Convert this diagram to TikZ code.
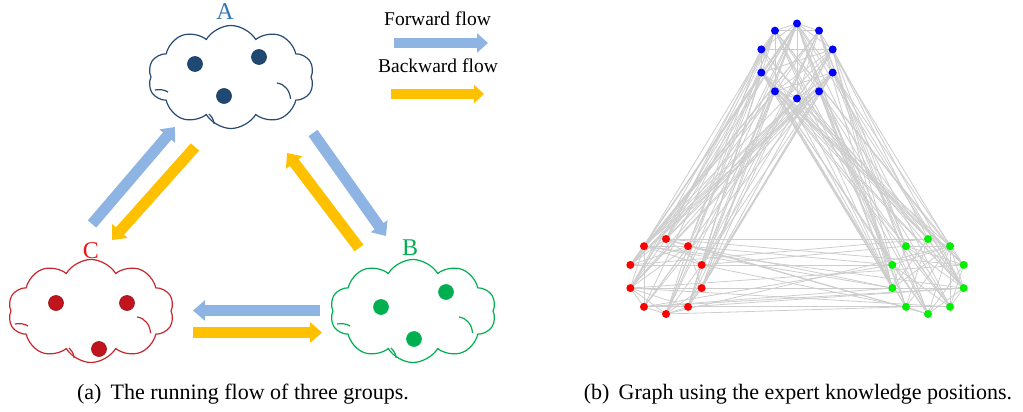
\documentclass[tikz,border=0pt]{standalone}
\usepackage{fontspec}
\setmainfont{Liberation Serif}
\usetikzlibrary{shapes.symbols,arrows.meta}
\pgfdeclarelayer{background}
\pgfsetlayers{background,main}
\definecolor{flowblue}{RGB}{141,180,226}
\definecolor{flowgold}{RGB}{255,192,0}
\definecolor{cloudA}{RGB}{40,75,115}
\definecolor{dotA}{RGB}{31,73,115}
\definecolor{labA}{RGB}{46,117,182}
\definecolor{cloudC}{RGB}{200,40,45}
\definecolor{dotC}{RGB}{192,20,30}
\definecolor{labC}{RGB}{240,20,20}
\definecolor{cloudB}{RGB}{0,176,80}
\definecolor{gblue}{RGB}{0,0,255}
\definecolor{gred}{RGB}{255,0,0}
\definecolor{ggreen}{RGB}{0,240,0}
\definecolor{edgegray}{RGB}{205,205,205}
\begin{document}
\begin{tikzpicture}[x=1pt,y=-1pt,
  grp/.style={cloud, cloud puffs=10, cloud puff arc=118, cloud ignores aspect,
    minimum width=166pt, minimum height=103pt, draw, line width=1.2pt, inner sep=0pt},
  inner/.style={line width=1.2pt},
  dot/.style={circle, inner sep=0pt, minimum size=15pt, line width=0.6pt},
  lab/.style={font=\fontsize{24}{28}\selectfont, anchor=base},
  leg/.style={font=\fontsize{19.5}{23}\selectfont, anchor=base},
  captext/.style={font=\fontsize{22}{26}\selectfont, anchor=base},
  flow/.style={line width=11pt, -{Triangle[length=12pt,width=20pt]}},
  gv/.style={circle, inner sep=0pt, minimum size=8pt},
  gedge/.style={draw=edgegray, line width=0.8pt},
  innerarcs/.pic={
    \draw[inner] (46,6) .. controls (54,7) and (59,14) .. (59.5,22);
    \draw[inner] (-22,37) .. controls (-19,40) and (-17,43) .. (-17,47);
    \draw[inner] (-76,13) .. controls (-71,12) and (-66,13) .. (-63,15);
  }]
\useasboundingbox (0,0) rectangle (1023,412);

% ---------- left panel: clouds ----------
\node[grp, draw=cloudA] (cA) at (231,77) {};
\node[grp, draw=cloudC] (cC) at (91,311) {};
\node[grp, draw=cloudB] (cB) at (413,311) {};
\pic[draw=cloudA] at (cA.center) {innerarcs};
\pic[draw=cloudC] at (cC.center) {innerarcs};
\pic[draw=cloudB] at (cB.center) {innerarcs};

\node[dot, fill=dotA, draw=dotA!80!black] (a1) at (195,64) {};
\node[dot, fill=dotA, draw=dotA!80!black] (a2) at (259,57) {};
\node[dot, fill=dotA, draw=dotA!80!black] (a3) at (224,96) {};
\node[dot, fill=dotC, draw=dotC!80!black] (c1) at (56,303) {};
\node[dot, fill=dotC, draw=dotC!80!black] (c2) at (127,303) {};
\node[dot, fill=dotC, draw=dotC!80!black] (c3) at (99,349) {};
\node[dot, fill=cloudB, draw=cloudB] (b1) at (381,307) {};
\node[dot, fill=cloudB, draw=cloudB] (b2) at (446,292) {};
\node[dot, fill=cloudB, draw=cloudB] (b3) at (414,339) {};

\node[lab, text=labA] (lA) at (225,20) {A};
\node[lab, text=labC] (lC) at (91,258) {C};
\node[lab, text=cloudB] (lB) at (410,255) {B};

% ---------- flow arrows ----------
\coordinate (ca1) at (92,224);  \coordinate (ca2) at (175,127);
\coordinate (ac1) at (195,147); \coordinate (ac2) at (112,240);
\coordinate (ab1) at (313,133); \coordinate (ab2) at (386,236);
\coordinate (ba1) at (359,248); \coordinate (ba2) at (287,153);
\coordinate (bc1) at (320,310.5); \coordinate (bc2) at (193,310.5);
\coordinate (cb1) at (193,332.5); \coordinate (cb2) at (322,332.5);
\draw[flow, flowblue] (ca1) -- (ca2);
\draw[flow, flowgold] (ac1) -- (ac2);
\draw[flow, flowblue] (ab1) -- (ab2);
\draw[flow, flowgold] (ba1) -- (ba2);
\draw[flow, flowblue] (bc1) -- (bc2);
\draw[flow, flowgold] (cb1) -- (cb2);

% ---------- legend ----------
\node[leg] (lf) at (437.5,26) {Forward flow};
\node[leg] (lbw) at (438,73) {Backward flow};
\coordinate (lf1) at (394,43); \coordinate (lf2) at (488,43);
\coordinate (lb1) at (391,94); \coordinate (lb2) at (484,94);
\draw[flow, flowblue, line width=10pt, -{Triangle[length=11pt,width=19pt]}] (lf1) -- (lf2);
\draw[flow, flowgold, line width=10pt, -{Triangle[length=10pt,width=18pt]}] (lb1) -- (lb2);

% ---------- right panel: graph ----------
\foreach \g/\cx/\cy/\col in {0/797/61/gblue,1/666/276.5/gred,2/928/276.5/ggreen}{
  \foreach \k in {0,...,9}{
    \pgfmathtruncatemacro\idx{10*\g+\k}
    \node[gv, fill=\col] (v\idx) at ({\cx+37.5*cos(90-36*\k)},{\cy-37.5*sin(90-36*\k)}) {};
  }
}
\pgfmathsetseed{4242}
\begin{pgfonlayer}{background}
\foreach \i in {0,...,28}{
  \pgfmathtruncatemacro\js{\i+1}
  \foreach \j in {\js,...,29}{
    \pgfmathtruncatemacro\gi{int(\i/10)}
    \pgfmathtruncatemacro\gj{int(\j/10)}
    \pgfmathsetmacro\p{\gi==\gj ? 0.6 : (\gi==0 ? 0.48 : 0.26)}
    \pgfmathsetmacro\r{rnd}
    \ifdim\r pt<\p pt \draw[gedge] (v\i.center) -- (v\j.center); \fi
  }
}
\end{pgfonlayer}

% ---------- captions ----------
\node[captext] (capa) at (243,399) {(a)\, The running flow of three groups.};
\node[captext] (capb) at (798,399) {(b)\, Graph using the expert knowledge positions.};
\end{tikzpicture}
\end{document}
